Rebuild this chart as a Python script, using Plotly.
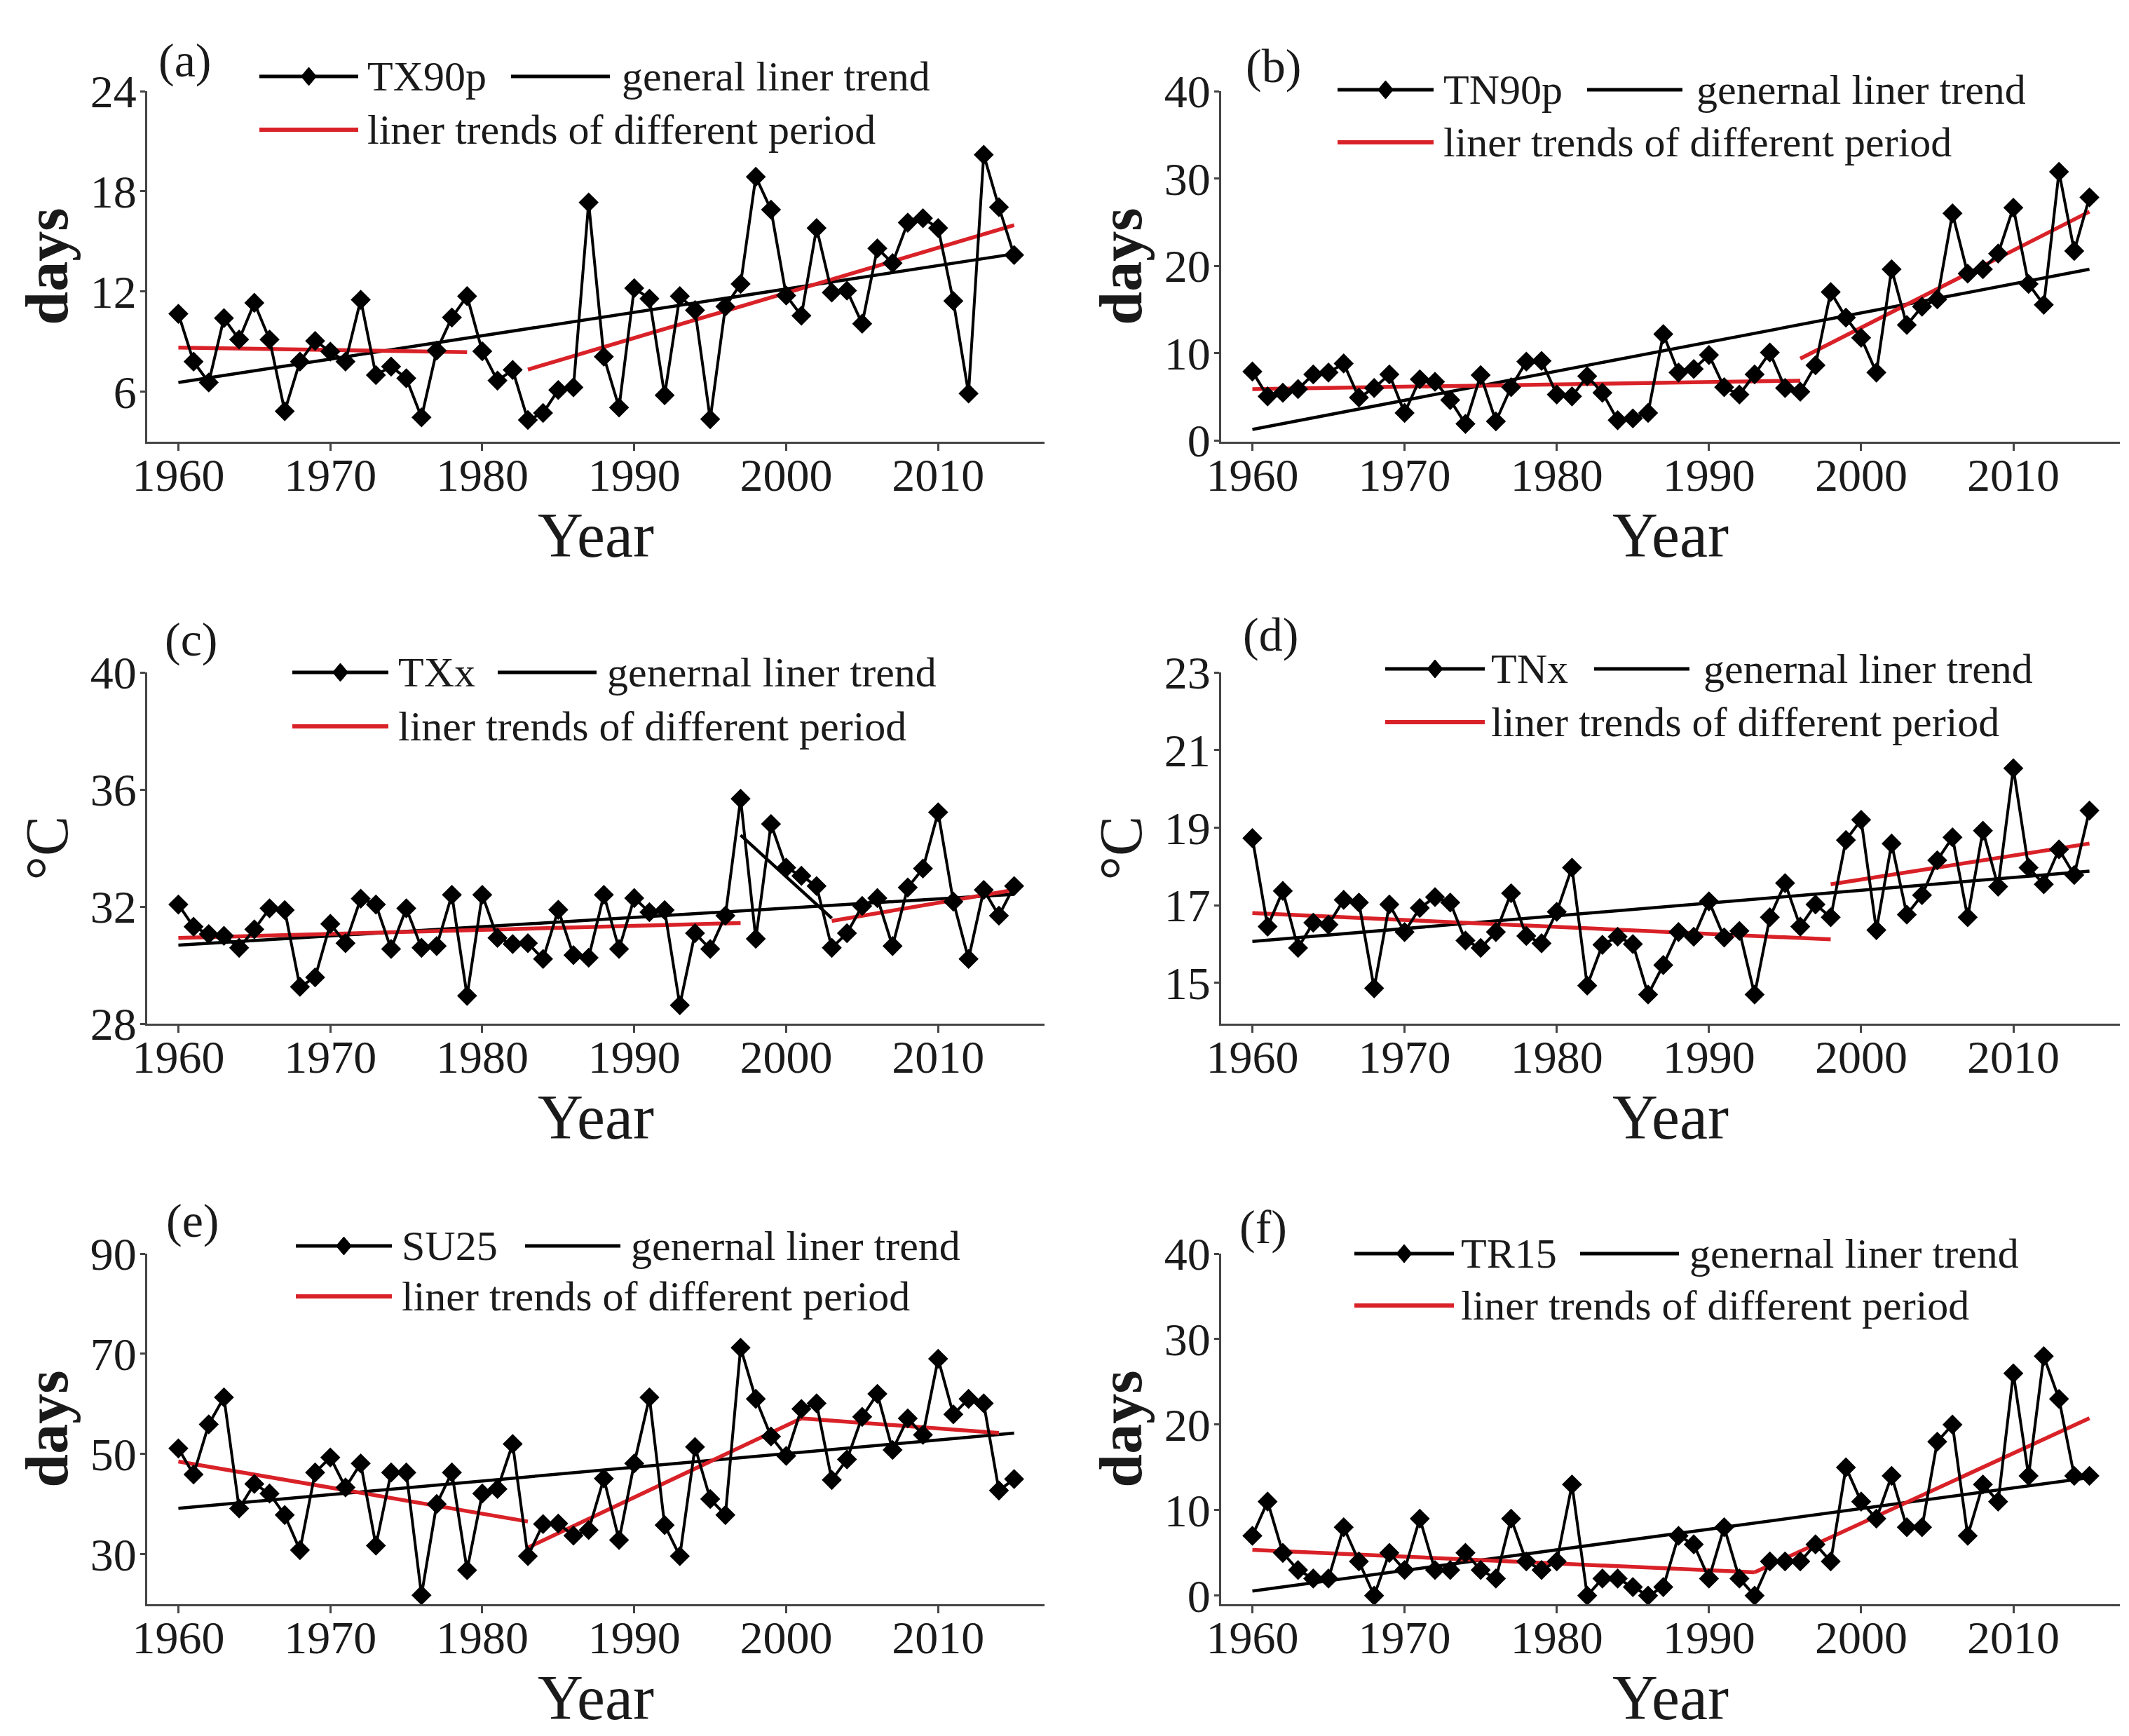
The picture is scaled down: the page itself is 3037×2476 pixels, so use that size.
import plotly.graph_objects as go

# ---------------- data ----------------
YEARS = list(range(1960, 2016))

TX90P = [10.66, 7.8, 6.55, 10.4, 9.12, 11.32, 9.12, 4.83, 7.8, 9.04,
         8.4, 7.8, 11.5, 6.99, 7.5, 6.8, 4.46, 8.46, 10.44, 11.72,
         8.42, 6.66, 7.3, 4.3, 4.72, 6.1, 6.26, 17.33, 8.09, 5.05,
         12.2, 11.57, 5.78, 11.72, 10.88, 4.35, 11.1, 12.45, 18.87, 16.9,
         11.76, 10.55, 15.8, 11.94, 12.05, 10.07, 14.58, 13.7, 16.12, 16.39,
         15.8, 11.43, 5.89, 20.19, 17.05, 14.18]
TN90P = [7.89, 5.04, 5.46, 5.88, 7.56, 7.77, 8.81, 4.91, 6.0, 7.56,
         3.15, 7.0, 6.72, 4.62, 1.89, 7.47, 2.18, 6.09, 9.02, 9.11,
         5.25, 5.04, 7.35, 5.46, 2.31, 2.52, 3.15, 12.17, 7.77, 8.18,
         9.78, 6.09, 5.25, 7.56, 10.07, 6.0, 5.58, 8.6, 17.0, 14.06,
         11.75, 7.77, 19.6, 13.22, 15.32, 16.16, 26.0, 19.1, 19.6, 21.4,
         26.65, 17.92, 15.53, 30.77, 21.7, 27.83]
TXX = [32.07, 31.31, 31.06, 31.0, 30.59, 31.22, 31.94, 31.88, 29.26, 29.58,
       31.41, 30.75, 32.27, 32.07, 30.55, 31.94, 30.59, 30.65, 32.4, 28.95,
       32.4, 30.93, 30.72, 30.75, 30.21, 31.89, 30.34, 30.25, 32.4, 30.55,
       32.29, 31.81, 31.88, 28.63, 31.09, 30.55, 31.69, 35.68, 30.9, 34.82,
       33.33, 33.05, 32.7, 30.59, 31.09, 32.02, 32.29, 30.65, 32.65, 33.3,
       35.22, 32.17, 30.21, 32.57, 31.69, 32.7]
TNX = [18.73, 16.45, 17.37, 15.9, 16.55, 16.5, 17.14, 17.07, 14.86, 17.02,
       16.31, 16.93, 17.21, 17.07, 16.09, 15.9, 16.31, 17.31, 16.21, 16.02,
       16.83, 17.97, 14.93, 15.98, 16.19, 16.0, 14.7, 15.46, 16.31, 16.19,
       17.1, 16.17, 16.34, 14.7, 16.69, 17.57, 16.45, 17.02, 16.69, 18.68,
       19.2, 16.36, 18.59, 16.76, 17.26, 18.16, 18.75, 16.69, 18.92, 17.48,
       20.53, 17.97, 17.54, 18.44, 17.78, 19.44]
SU25 = [51.1, 45.9, 55.9, 61.3, 39.1, 44.0, 42.1, 37.8, 30.8, 46.3,
        49.3, 43.3, 48.1, 31.7, 46.3, 46.3, 21.8, 40.0, 46.3, 26.8,
        42.1, 43.0, 52.0, 29.6, 36.0, 36.1, 33.7, 34.8, 45.1, 32.8,
        48.1, 61.3, 35.8, 29.6, 51.4, 41.0, 37.8, 71.2, 61.0, 53.5,
        49.6, 59.0, 60.1, 44.8, 48.9, 57.4, 62.0, 50.8, 57.1, 53.8,
        69.0, 57.9, 61.0, 60.1, 42.7, 45.0]
TR15 = [7, 11, 5, 3, 2, 2, 8, 4, 0, 5,
        3, 9, 3, 3, 5, 3, 2, 9, 4, 3,
        4, 13, 0, 2, 2, 1, 0, 1, 7, 6,
        2, 8, 2, 0, 4, 4, 4, 6, 4, 15,
        11, 9, 14, 8, 8, 18, 20, 7, 13, 11,
        26, 14, 28, 23, 14, 14]

# general linear trend end points
TX90P_GEN_X = [1960, 2015]; TX90P_GEN_Y = [6.55, 14.25]
TN90P_GEN_X = [1960, 2015]; TN90P_GEN_Y = [1.26, 19.6]
TXX_GEN_X = [1960, 2015];   TXX_GEN_Y = [30.68, 32.42]
TNX_GEN_X = [1960, 2015];   TNX_GEN_Y = [16.07, 17.88]
SU25_GEN_X = [1960, 2015];  SU25_GEN_Y = [39.15, 54.15]
TR15_GEN_X = [1960, 2015];  TR15_GEN_Y = [0.53, 13.8]

# trends of different periods (list of segments: years, values)
TX90P_PER_X = [[1960, 1979], [1983, 2015]]
TX90P_PER_Y = [[8.64, 8.37], [7.32, 15.97]]
TN90P_PER_X = [[1960, 1996], [1996, 2015]]
TN90P_PER_Y = [[5.88, 6.84], [9.36, 26.2]]
TXX_PER_X = [[1960, 1997], [2003, 2015]]
TXX_PER_Y = [[30.93, 31.44], [31.51, 32.57]]
TXX_MID_X = [1997, 2003]          # black middle-period segment in (c)
TXX_MID_Y = [34.44, 31.6]
TNX_PER_X = [[1960, 1998], [1998, 2015]]
TNX_PER_Y = [[16.8, 16.12], [17.54, 18.59]]
SU25_PER_X = [[1960, 1983], [1983, 2001], [2001, 2014]]
SU25_PER_Y = [[48.5, 36.5], [31.3, 57.1], [57.1, 54.2]]
TR15_PER_X = [[1960, 1993], [1993, 2015]]
TR15_PER_Y = [[5.36, 2.73], [2.73, 20.75]]

# tick labels
X_TICKS = [1960, 1970, 1980, 1990, 2000, 2010]
TX90P_TICKS = [6, 12, 18, 24]
TN90P_TICKS = [0, 10, 20, 30, 40]
TXX_TICKS = [28, 32, 36, 40]
TNX_TICKS = [15, 17, 19, 21, 23]
SU25_TICKS = [30, 50, 70, 90]
TR15_TICKS = [0, 10, 20, 30, 40]

# ---------------- styling ----------------
W, H = 3037, 2476
FONT = "Liberation Serif"
TXT = "#1a1a1a"
RED = "#d92128"
BLACK = "#000000"
AXC = "#444444"


def px(x):
    return x / W


def py(y):
    return 1 - y / H


panels = [
    dict(name="TX90p", y=TX90P, gx=TX90P_GEN_X, gy=TX90P_GEN_Y, px_=TX90P_PER_X, py_=TX90P_PER_Y,
         ticks=TX90P_TICKS, yr=[3.0, 24.0], ytitle="<b>days</b>", label="(a)", gen="general liner trend",
         dom_x=(202, 1482), dom_y=(122, 622),
         leg=dict(r1=101, s1=(362, 503), t1=514, s2=(721, 862), t2=877, r2=177, lab=(256, 78))),
    dict(name="TN90p", y=TN90P, gx=TN90P_GEN_X, gy=TN90P_GEN_Y, px_=TN90P_PER_X, py_=TN90P_PER_Y,
         ticks=TN90P_TICKS, yr=[-0.15, 40.0], ytitle="<b>days</b>", label="(b)", gen="genernal liner trend",
         dom_x=(1734, 3016), dom_y=(122, 622),
         leg=dict(r1=120, s1=(1900, 2037), t1=2049, s2=(2256, 2392), t2=2410, r2=195, lab=(1808, 86))),
    dict(name="TXx", y=TXX, gx=TXX_GEN_X, gy=TXX_GEN_Y, px_=TXX_PER_X, py_=TXX_PER_Y,
         ticks=TXX_TICKS, yr=[28.0, 40.0], ytitle="°C", label="(c)", gen="genernal liner trend",
         dom_x=(202, 1482), dom_y=(951, 1452),
         leg=dict(r1=951, s1=(409, 546), t1=558, s2=(702, 843), t2=856, r2=1028, lab=(264, 904))),
    dict(name="TNx", y=TNX, gx=TNX_GEN_X, gy=TNX_GEN_Y, px_=TNX_PER_X, py_=TNX_PER_Y,
         ticks=TNX_TICKS, yr=[13.95, 23.0], ytitle="°C", label="(d)", gen="genernal liner trend",
         dom_x=(1734, 3016), dom_y=(951, 1452),
         leg=dict(r1=946, s1=(1968, 2110), t1=2117, s2=(2266, 2402), t2=2420, r2=1022, lab=(1804, 897))),
    dict(name="SU25", y=SU25, gx=SU25_GEN_X, gy=SU25_GEN_Y, px_=SU25_PER_X, py_=SU25_PER_Y,
         ticks=SU25_TICKS, yr=[20.0, 90.0], ytitle="<b>days</b>", label="(e)", gen="genernal liner trend",
         dom_x=(202, 1482), dom_y=(1780, 2280),
         leg=dict(r1=1769, s1=(414, 551), t1=563, s2=(741, 877), t2=890, r2=1841, lab=(266, 1733))),
    dict(name="TR15", y=TR15, gx=TR15_GEN_X, gy=TR15_GEN_Y, px_=TR15_PER_X, py_=TR15_PER_Y,
         ticks=TR15_TICKS, yr=[-1.0, 40.0], ytitle="<b>days</b>", label="(f)", gen="genernal liner trend",
         dom_x=(1734, 3016), dom_y=(1780, 2280),
         leg=dict(r1=1780, s1=(1924, 2066), t1=2074, s2=(2246, 2387), t2=2400, r2=1854, lab=(1794, 1742))),
]

fig = go.Figure()
layout = dict(template="none", width=W, height=H, autosize=False,
              margin=dict(l=0, r=0, t=0, b=0, pad=0),
              paper_bgcolor="white", plot_bgcolor="white", showlegend=False,
              font=dict(family=FONT, color=TXT))
annotations = []
shapes = []

for i, p in enumerate(panels, start=1):
    xa = "x" if i == 1 else f"x{i}"
    ya = "y" if i == 1 else f"y{i}"
    # general trend
    fig.add_trace(go.Scatter(x=p["gx"], y=p["gy"], mode="lines", xaxis=xa, yaxis=ya,
                             line=dict(color=BLACK, width=4.5), name=p["gen"], hoverinfo="skip"))
    if p["name"] == "TXx":
        fig.add_trace(go.Scatter(x=TXX_MID_X, y=TXX_MID_Y, mode="lines", xaxis=xa, yaxis=ya,
                                 line=dict(color=BLACK, width=4.5), name="middle period trend",
                                 hoverinfo="skip"))
    # period trends
    for sx, sy in zip(p["px_"], p["py_"]):
        fig.add_trace(go.Scatter(x=sx, y=sy, mode="lines", xaxis=xa, yaxis=ya,
                                 line=dict(color=RED, width=5.5),
                                 name="liner trends of different period", hoverinfo="skip"))
    # series
    fig.add_trace(go.Scatter(x=YEARS, y=p["y"], mode="lines+markers", xaxis=xa, yaxis=ya,
                             line=dict(color=BLACK, width=4),
                             marker=dict(symbol="diamond", size=22, color=BLACK),
                             name=p["name"]))

    axkey = "xaxis" if i == 1 else f"xaxis{i}"
    aykey = "yaxis" if i == 1 else f"yaxis{i}"
    x0, x1 = p["dom_x"]
    ytop, ybot = p["dom_y"]
    layout[axkey] = dict(domain=[px(x0), px(x1)], anchor=ya, range=[1957.95, 2017.0],
                         automargin=False,
                         tickvals=X_TICKS, ticks="outside", ticklen=10, tickwidth=2.5,
                         ticklabelstandoff=-22,
                         tickcolor=AXC, showline=True, linecolor=AXC, linewidth=3,
                         showgrid=False, zeroline=False, mirror=False,
                         tickfont=dict(family=FONT, size=66, color=TXT),
                         title=dict(text="Year", font=dict(family=FONT, size=90, color=TXT),
                                    standoff=0))
    layout[aykey] = dict(domain=[py(ybot), py(ytop)], anchor=xa, range=p["yr"],
                         automargin=False,
                         tickvals=p["ticks"], ticks="outside", ticklen=7, tickwidth=2.5,
                         ticklabelstandoff=-8,
                         tickcolor=AXC, showline=True, linecolor=AXC, linewidth=3,
                         showgrid=False, zeroline=False, mirror=False,
                         tickfont=dict(family=FONT, size=66, color=TXT),
                         title=dict(text=p["ytitle"], font=dict(family=FONT, size=86, color=TXT),
                                    standoff=4))

    L = p["leg"]
    # legend row 1: series sample with diamond
    shapes.append(dict(type="line", xref="paper", yref="paper",
                       x0=px(L["s1"][0]), x1=px(L["s1"][1]), y0=py(L["r1"]), y1=py(L["r1"]),
                       line=dict(color=BLACK, width=5)))
    cx = (L["s1"][0] + L["s1"][1]) / 2
    cy = L["r1"]
    shapes.append(dict(type="path", xref="paper", yref="paper",
                       path=(f"M {px(cx - 11)} {py(cy)} L {px(cx)} {py(cy - 13)} "
                             f"L {px(cx + 11)} {py(cy)} L {px(cx)} {py(cy + 13)} Z"),
                       fillcolor=BLACK, line=dict(color=BLACK, width=1)))
    annotations.append(dict(text=p["name"], xref="paper", yref="paper", x=px(L["t1"]), y=py(L["r1"]),
                            xanchor="left", yanchor="middle", showarrow=False,
                            font=dict(family=FONT, size=60, color=TXT)))
    # legend row 1: general trend
    shapes.append(dict(type="line", xref="paper", yref="paper",
                       x0=px(L["s2"][0]), x1=px(L["s2"][1]), y0=py(L["r1"]), y1=py(L["r1"]),
                       line=dict(color=BLACK, width=5)))
    annotations.append(dict(text=p["gen"], xref="paper", yref="paper", x=px(L["t2"]), y=py(L["r1"]),
                            xanchor="left", yanchor="middle", showarrow=False,
                            font=dict(family=FONT, size=60, color=TXT)))
    # legend row 2: red period trends
    shapes.append(dict(type="line", xref="paper", yref="paper",
                       x0=px(L["s1"][0]), x1=px(L["s1"][1]), y0=py(L["r2"]), y1=py(L["r2"]),
                       line=dict(color=RED, width=6)))
    annotations.append(dict(text="liner trends of different period", xref="paper", yref="paper",
                            x=px(L["t1"]), y=py(L["r2"]), xanchor="left", yanchor="middle",
                            showarrow=False, font=dict(family=FONT, size=60, color=TXT)))
    # panel label
    annotations.append(dict(text=p["label"], xref="paper", yref="paper",
                            x=px(L["lab"][0]), y=py(L["lab"][1]), xanchor="center", yanchor="middle",
                            showarrow=False, font=dict(family=FONT, size=68, color=TXT)))

layout["annotations"] = annotations
layout["shapes"] = shapes
fig.update_layout(**layout)
fig.write_html("out.html")
